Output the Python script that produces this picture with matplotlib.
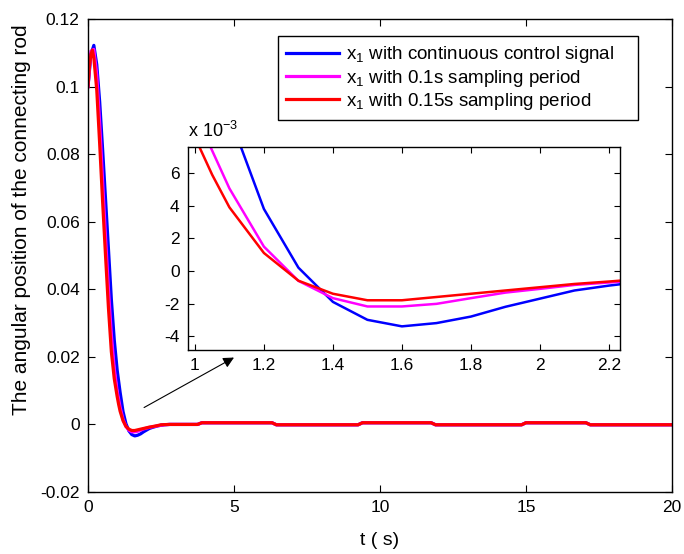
import matplotlib
matplotlib.use("Agg")
import matplotlib.pyplot as plt
from matplotlib.ticker import FuncFormatter, FixedLocator

plt.rcParams['font.family'] = ['Liberation Sans', 'DejaVu Sans']
plt.rcParams['mathtext.fontset'] = 'custom'
plt.rcParams['mathtext.rm'] = 'Liberation Sans'
plt.rcParams['mathtext.it'] = 'Liberation Sans:italic'
plt.rcParams['axes.unicode_minus'] = False

# ---------------- data ----------------
t_cont = [0.0, 0.1, 0.2, 0.3, 0.4, 0.5, 0.6, 0.7, 0.8, 0.9, 1.0, 1.1, 1.2, 1.3, 1.4,
          1.5, 1.6, 1.7, 1.8, 1.9, 2.0, 2.1, 2.2, 2.4, 2.6, 2.8, 3.75, 3.9, 6.3, 6.45,
          9.25, 9.4, 11.75, 11.9, 14.85, 15.0, 17.05, 17.2, 20.0]
x1_cont = [0.100, 0.1095, 0.1122, 0.1065, 0.0955, 0.0815, 0.0668, 0.0520, 0.0370, 0.0250,
           0.0160, 0.0095, 0.0038, 0.0002, -0.0019, -0.0030, -0.0034, -0.0032, -0.0028,
           -0.0022, -0.0017, -0.0012, -0.0009, -0.0004, -0.0001, 0.0, 0.0, 0.0005, 0.0005,
           -0.0001, -0.0001, 0.0005, 0.0005, -0.0001, -0.0001, 0.0005, 0.0005, -0.0001, -0.0001]

t_s01 = [0.0, 0.1, 0.2, 0.3, 0.4, 0.5, 0.6, 0.7, 0.8, 0.9, 1.0, 1.1, 1.2, 1.3, 1.4,
         1.5, 1.6, 1.7, 1.8, 1.9, 2.0, 2.1, 2.2, 2.4, 2.6, 2.8, 3.75, 3.9, 6.3, 6.45,
         9.25, 9.4, 11.75, 11.9, 14.85, 15.0, 17.05, 17.2, 20.0]
x1_s01 = [0.100, 0.1105, 0.1110, 0.1035, 0.0890, 0.0720, 0.0555, 0.0400, 0.0265, 0.0165,
          0.0097, 0.00506, 0.00149, -0.00061, -0.00167, -0.00218, -0.00218, -0.00202,
          -0.00167, -0.00133, -0.00110, -0.00086, -0.00071, -0.0004, -0.0001, 0.0, 0.0,
          0.0005, 0.0005, -0.0001, -0.0001, 0.0005, 0.0005, -0.0001, -0.0001, 0.0005,
          0.0005, -0.0001, -0.0001]

t_s015 = [0.0, 0.05, 0.1, 0.15, 0.2, 0.3, 0.4, 0.5, 0.6, 0.7, 0.8, 0.9, 1.0, 1.05, 1.1,
          1.2, 1.3, 1.4, 1.5, 1.6, 1.7, 1.8, 1.9, 2.0, 2.1, 2.2, 2.35, 2.5, 2.8, 3.75, 3.9,
          6.3, 6.45, 9.25, 9.4, 11.75, 11.9, 14.85, 15.0, 17.05, 17.2, 20.0]
x1_s015 = [0.100, 0.1060, 0.1095, 0.1108, 0.1085, 0.0990, 0.0830, 0.0660, 0.0500, 0.0345,
           0.0215, 0.0135, 0.0082, 0.0059, 0.0039, 0.0011, -0.0006, -0.0014, -0.0018,
           -0.0018, -0.0016, -0.0014, -0.0012, -0.0010, -0.0008, -0.00065, -0.0004,
           -0.0001, 0.0, 0.0, 0.0005, 0.0005, -0.0001, -0.0001, 0.0005, 0.0005, -0.0001,
           -0.0001, 0.0005, 0.0005, -0.0001, -0.0001]

labels = [r"x$_\mathrm{1}$ with continuous control signal",
          r"x$_\mathrm{1}$ with 0.1s sampling period",
          r"x$_\mathrm{1}$ with 0.15s sampling period"]
colors = ['#0000ff', '#ff00ff', '#ff0000']

main_xticks = [0, 5, 10, 15, 20]
main_yticks = [-0.02, 0, 0.02, 0.04, 0.06, 0.08, 0.1, 0.12]
inset_xticks = [1, 1.2, 1.4, 1.6, 1.8, 2, 2.2]
inset_yticks = [-0.004, -0.002, 0, 0.002, 0.004, 0.006]

series = [(t_cont, x1_cont), (t_s01, x1_s01), (t_s015, x1_s015)]

# ---------------- figure ----------------
fig = plt.figure(figsize=(6.84, 5.54), dpi=100)
ax = fig.add_axes([88/684, 1-492/554, (672-88)/684, (492-19)/554])

for (t, v), c, lab in zip(series, colors, labels):
    ax.plot(t, v, color=c, lw=2.3, label=lab)

ax.set_xlim(0, 20)
ax.set_ylim(-0.02, 0.12)
ax.xaxis.set_major_locator(FixedLocator(main_xticks))
ax.yaxis.set_major_locator(FixedLocator(main_yticks))
ax.yaxis.set_major_formatter(FuncFormatter(lambda v, p: '%g' % round(v, 6)))
ax.xaxis.set_major_formatter(FuncFormatter(lambda v, p: '%g' % v))
ax.tick_params(direction='in', top=True, right=True, labelsize=12.5, length=5, width=0.8, pad=6)
for s in ax.spines.values():
    s.set_linewidth(1.0)
ax.set_xlabel("t ( s)", fontsize=14, labelpad=12)
ax.set_ylabel("The angular position of the connecting rod", fontsize=15)
ax.yaxis.set_label_coords(-0.097, 0.575)

leg = ax.legend(loc='upper left', bbox_to_anchor=(0.325, 0.786, 0.617, 0.178),
                mode='expand', fontsize=13.5,
                frameon=True, fancybox=False, edgecolor='black', framealpha=1,
                handlelength=2.8, handletextpad=0.4, borderpad=0.45, labelspacing=0.12,
                borderaxespad=0)
leg.get_frame().set_linewidth(1.0)

ax.annotate("", xy=(5.0, 0.0198), xytext=(1.92, 0.005),
            arrowprops=dict(arrowstyle='-|>', color='black', lw=0.8,
                            mutation_scale=16, shrinkA=0, shrinkB=0))

# ---------------- inset ----------------
ins = fig.add_axes([188/684, 1-350/554, (620-188)/684, (350-147)/554])
for (t, v), c in zip(series, colors):
    ins.plot(t, v, color=c, lw=1.8)
ins.set_xlim(0.98, 2.232)
ins.set_ylim(-4.85e-3, 7.6e-3)
ins.xaxis.set_major_locator(FixedLocator(inset_xticks))
ins.yaxis.set_major_locator(FixedLocator(inset_yticks))
ins.xaxis.set_major_formatter(FuncFormatter(lambda v, p: '%g' % round(v, 3)))
ins.yaxis.set_major_formatter(FuncFormatter(lambda v, p: '%g' % round(v * 1e3, 3)))
ins.tick_params(direction='in', top=True, right=True, labelsize=12.5, length=4, width=0.8, pad=6)
for s in ins.spines.values():
    s.set_linewidth(1.0)
ins.text(0.0, 1.03, r"x 10$^{\mathrm{-3}}$", transform=ins.transAxes, fontsize=13,
         ha='left', va='bottom')

fig.savefig("out.png", dpi=100)
